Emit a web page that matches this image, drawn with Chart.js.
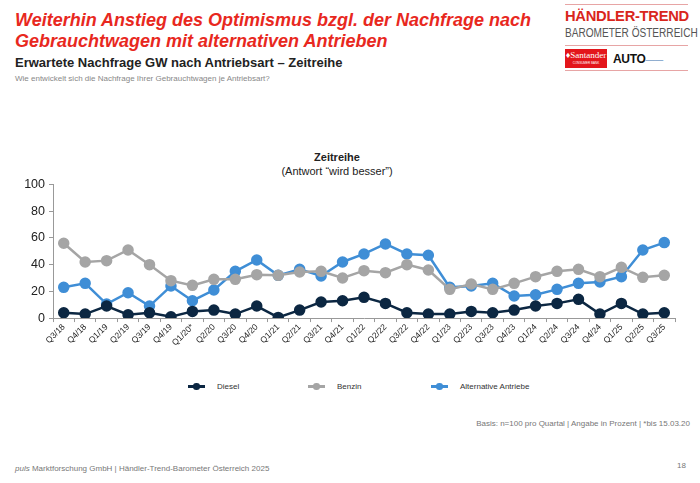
<!DOCTYPE html>
<html lang="de">
<head>
<meta charset="UTF-8">
<title>Erwartete Nachfrage GW nach Antriebsart</title>
<script src="https://cdn.jsdelivr.net/npm/chart.js@4.4.0/dist/chart.umd.min.js"></script>
<style>
  body { margin: 0; width: 700px; height: 483px; position: relative; background: #fff; font-family: "Liberation Sans", Arial, sans-serif; overflow: hidden; }
  .title { position: absolute; left: 15px; top: 10px; color: #e8281e; font-size: 18px; font-weight: bold; font-style: italic; line-height: 21px; }
  .sub { position: absolute; left: 15px; top: 55px; font-size: 13px; font-weight: bold; color: #222; }
  .q { position: absolute; left: 15px; top: 74px; font-size: 8px; color: #888; }
  .logo { position: absolute; left: 565px; top: 4px; width: 123px; white-space: nowrap; }
  .logo .l1 { border-top: 1px solid #e7a5a5; padding-top: 3px; line-height: 16px; }
  .logo .l1 span { display: inline-block; color: #d9261c; font-weight: bold; font-size: 15.5px; letter-spacing: -0.3px; transform: scaleX(0.95); transform-origin: left; }
  .logo .l2 { line-height: 14px; margin-top: 1px; }
  .logo .l2 span { display: inline-block; color: #555; font-size: 12px; transform: scaleX(0.84); transform-origin: left; }
  .logo .l3 { border-top: 1px solid #e7a5a5; margin-top: 5px; padding-top: 3px; display: flex; align-items: center; border-bottom: 1px solid #e7a5a5; padding-bottom: 2px; }
  .logo .sant { background: #e3161b; color: #fff; font-family: "Liberation Serif", serif; font-size: 9px; width: 42px; height: 19px; text-align: center; line-height: 12px; overflow: hidden; }
  .logo .sant small { display: block; font-size: 3px; line-height: 4px; font-family: "Liberation Sans"; }
  .logo .auto { margin-left: 6px; font-weight: bold; font-size: 12px; color: #111; letter-spacing: -0.3px; }
  .logo .auto span { color: #3a6fb0; font-size: 9px; font-weight: normal; }
  .ctitle { position: absolute; left: 0; width: 674px; top: 150px; text-align: center; font-size: 11px; color: #222; line-height: 14px; }
  .chartbox { position: absolute; left: 6px; top: 173px; width: 682px; height: 175px; }
  .legend { position: absolute; top: 382px; left: 0; width: 700px; font-size: 8px; color: #333; }
  .legend div { position: absolute; display: flex; align-items: center; }
  .legend i { display: inline-block; width: 17px; height: 2.5px; position: relative; margin-right: 12px; }
  .legend i:after { content: ""; position: absolute; left: 5px; top: -2px; width: 6.5px; height: 6.5px; border-radius: 50%; background: inherit; }
  .basis { position: absolute; right: 10px; top: 419px; font-size: 8px; color: #777; }
  .foot { position: absolute; left: 15px; top: 464px; font-size: 8px; color: #777; }
  .page { position: absolute; right: 14px; top: 461px; font-size: 8px; color: #777; }
</style>
</head>
<body>
<div class="title">Weiterhin Anstieg des Optimismus bzgl. der Nachfrage nach<br>Gebrauchtwagen mit alternativen Antrieben</div>
<div class="sub">Erwartete Nachfrage GW nach Antriebsart – Zeitreihe</div>
<div class="q">Wie entwickelt sich die Nachfrage Ihrer Gebrauchtwagen je Antriebsart?</div>

<div class="logo">
  <div class="l1"><span>HÄNDLER-TREND</span></div>
  <div class="l2"><span>BAROMETER ÖSTERREICH</span></div>
  <div class="l3">
    <div class="sant">&#9830;Santander<small>CONSUMER BANK</small></div>
    <div class="auto">AUTO<span>&#8212;&#8212;</span></div>
  </div>
</div>

<div class="ctitle"><b>Zeitreihe</b><br>(Antwort “wird besser”)</div>

<div class="chartbox"><canvas id="myChart"></canvas></div>

<div class="legend" id="legend"></div>

<div class="basis">Basis: n=100 pro Quartal | Angabe in Prozent | *bis 15.03.20</div>
<div class="foot"><i>puls</i> Marktforschung GmbH | Händler-Trend-Barometer Österreich 2025</div>
<div class="page">18</div>

<script>
const quarters = ['Q3/18','Q4/18','Q1/19','Q2/19','Q3/19','Q4/19','Q1/20*','Q2/20','Q3/20','Q4/20',
  'Q1/21','Q2/21','Q3/21','Q4/21','Q1/22','Q2/22','Q3/22','Q4/22','Q1/23','Q2/23','Q3/23','Q4/23',
  'Q1/24','Q2/24','Q3/24','Q4/24','Q1/25','Q2/25','Q3/25'];

const diesel = [4, 3, 9, 2.5, 4, 1, 5, 6, 3, 9, 0.5, 6, 12, 13, 15.5, 11, 4, 3, 3, 5, 4, 6, 9, 11, 14, 3, 11, 3, 4];
const benzin = [56, 42, 43, 51, 40, 28, 24.5, 29, 29, 32.5, 32, 34.5, 35, 30, 35.5, 34, 40, 36, 21.5, 25.5, 21.5, 26, 31, 35, 36.5, 31, 38, 30.5, 32];
const alternative = [23, 26, 10.5, 19, 9, 24, 13, 21, 35, 43.5, 32, 36.5, 31.5, 42, 48, 55.5, 48, 47, 23, 24, 26, 16.5, 17.5, 21.5, 26, 27, 31, 51, 56.5];

const seriesNames = ['Diesel', 'Benzin', 'Alternative Antriebe'];
const seriesColors = ['#0c2742', '#a5a5a5', '#3f8ed6'];
const yTicks = [0, 20, 40, 60, 80, 100];

const series = [diesel, benzin, alternative];
const datasets = series.map((d, i) => ({
  label: seriesNames[i],
  data: d,
  borderColor: seriesColors[i],
  backgroundColor: seriesColors[i],
  borderWidth: 2.5,
  pointRadius: 4.5,
  pointHoverRadius: 4.5,
  tension: 0
}));

// legend in html, fixed spacing like the original
const legendX = [188, 308, 431];
const legendEl = document.getElementById('legend');
seriesNames.forEach((n, i) => {
  const d = document.createElement('div');
  d.style.left = legendX[i] + 'px';
  d.innerHTML = '<i style="background:' + seriesColors[i] + '"></i>' + n;
  legendEl.appendChild(d);
});

new Chart(document.getElementById('myChart'), {
  type: 'line',
  data: { labels: quarters, datasets: datasets },
  options: {
    responsive: true,
    maintainAspectRatio: false,
    animation: false,
    layout: { padding: { top: 2, right: 13, left: 0, bottom: 0 } },
    plugins: { legend: { display: false }, tooltip: { enabled: false } },
    scales: {
      x: {
        offset: true,
        grid: { display: true, drawOnChartArea: false, offset: true, color: '#999', tickLength: 4 },
        border: { color: '#999', width: 1 },
        ticks: { color: '#222', font: { family: 'Liberation Sans', size: 8.5 }, maxRotation: 45, minRotation: 45, autoSkip: false, padding: 0 }
      },
      y: {
        min: 0, max: 100,
        afterBuildTicks: s => { s.ticks = yTicks.map(v => ({ value: v })); },
        afterFit: s => { s.width = 47; },
        grid: { display: true, drawOnChartArea: false, color: '#999', tickLength: 4 },
        border: { color: '#999', width: 1 },
        ticks: { color: '#222', font: { family: 'Liberation Sans', size: 12.5 }, padding: 4 }
      }
    }
  }
});
</script>
</body>
</html>
